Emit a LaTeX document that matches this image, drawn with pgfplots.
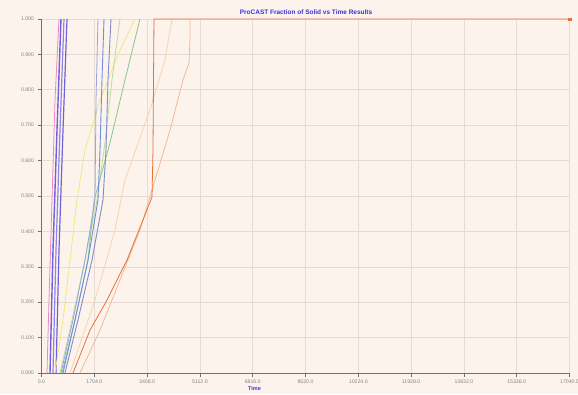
\documentclass[border=0pt]{standalone}
\usepackage{fontspec}
\setmainfont{Liberation Sans}
\usepackage{pgfplots}
\pgfplotsset{compat=1.18}
\definecolor{bg}{HTML}{FCF3EC}
\definecolor{gridc}{HTML}{E6DCD3}
\definecolor{axisc}{HTML}{707070}
\definecolor{tickc}{HTML}{858585}
\definecolor{titlec}{HTML}{3A34D8}
\definecolor{cR}{HTML}{E8703A}
\definecolor{cP}{HTML}{F5B895}
\definecolor{cLO}{HTML}{F8D2AE}
\definecolor{cG}{HTML}{86C886}
\definecolor{cLG}{HTML}{B8E0A0}
\definecolor{cY}{HTML}{EEEA80}
\definecolor{cB1}{HTML}{6E8FE0}
\definecolor{cB2}{HTML}{7F8CC8}
\definecolor{cB3}{HTML}{9AA4DA}
\definecolor{cU}{HTML}{6F62DC}
\definecolor{cU2}{HTML}{8E84E8}
\definecolor{cPk}{HTML}{EE86C6}
\begin{document}
\begin{tikzpicture}[x=1bp,y=1bp]
\path[use as bounding box, fill=bg] (0,0) rectangle (578,394);
\node[font=\fontsize{6.5}{7}\selectfont\bfseries, text=titlec] at (306,382) {ProCAST Fraction of Solid vs Time Results};
\begin{axis}[
  at={(41.5bp,21bp)}, anchor=south west,
  scale only axis, width=528bp, height=354bp,
  xmin=0, xmax=17040, ymin=0, ymax=1,
  scaled x ticks=false, scaled y ticks=false,
  axis x line=bottom, axis y line=left,
  axis line style={axisc, -, line width=0.8pt},
  clip=false,
  grid=major, major grid style={gridc, line width=0.6pt},
  xtick={0,1704,3408,5112,6816,8520,10224,11928,13632,15336,17040},
  xticklabels={0.0,1704.0,3408.0,5112.0,6816.0,8520.0,10224.0,11928.0,13632.0,15336.0,17040.0},
  ytick={0,0.1,0.2,0.3,0.4,0.5,0.6,0.7,0.8,0.9,1},
  yticklabels={0.000,0.100,0.200,0.300,0.400,0.500,0.600,0.700,0.800,0.900,1.000},
  tick align=outside, major tick length=4bp,
  tick style={axisc, line width=0.6pt},
  ticklabel style={font=\fontsize{5.2}{6}\selectfont, text=tickc},
  /pgf/number format/assume math mode=true,
  xticklabel style={yshift=1bp},
  xlabel={Time},
  xlabel style={at={(axis description cs:0.4034,0)}, anchor=north, yshift=-10bp, font=\fontsize{5.5}{6}\selectfont\bfseries, text=titlec},
]
% purple / pink group
\addplot[cPk, line width=0.8pt] coordinates {(177,0) (242,0.206) (339,0.489) (436,0.771) (565,1)};
\addplot[cU, line width=1.4pt] coordinates {(274,0) (371,0.347) (500,0.686) (629,1)};
\addplot[cU2, line width=1.2pt] coordinates {(371,0) (468,0.347) (597,0.686) (726,1)};
\addplot[cU, line width=1.2pt] coordinates {(468,0) (565,0.347) (694,0.686) (823,1)};
% yellow
\addplot[cY, line width=0.8pt] coordinates {(436,0) (694,0.150) (920,0.319) (1146,0.489) (1404,0.630) (1888,0.771) (2533,0.912) (3017,1)};
% greens
\addplot[cLG, line width=0.8pt] coordinates {(597,0) (984,0.150) (1404,0.319) (1791,0.489) (2049,0.650) (2275,0.828) (2533,1)};
\addplot[cG, line width=0.8pt] coordinates {(662,0) (1081,0.150) (1501,0.319) (1700,0.489) (2210,0.650) (2694,0.828) (3179,1)};
% blues
\addplot[cB3, line width=0.8pt] coordinates {(629,0) (1017,0.150) (1404,0.319) (1726,0.489) (1759,0.771) (1823,1)};
\addplot[cB1, line width=0.9pt] coordinates {(694,0) (1081,0.150) (1501,0.319) (1823,0.489) (1888,0.630) (1952,0.828) (2017,1)};
\addplot[cB2, line width=0.9pt] coordinates {(758,0) (1178,0.150) (1630,0.319) (1985,0.489) (2081,0.630) (2146,0.828) (2243,1)};
% light orange
\addplot[cLO, line width=0.8pt] coordinates {(920,0) (1726,0.206) (2372,0.404) (2694,0.545) (3501,0.743) (3985,0.884) (4211,1)};
% peach
\addplot[cP, line width=0.8pt] coordinates {(1242,0) (1888,0.121) (2533,0.263) (3179,0.404) (3663,0.545) (4147,0.686) (4566,0.828) (4760,0.876) (4792,0.941) (4792,1)};
% orange-red
\addplot[cR, line width=0.8pt] coordinates {(1016,0) (1565,0.121) (2114,0.206) (2759,0.319) (3275,0.432) (3566,0.497) (3598,0.630) (3630,1) (17040,1)};
\addplot[cR, only marks, mark=square*, mark size=1.2pt] coordinates {(17040,1)};
\end{axis}
\end{tikzpicture}
\end{document}
